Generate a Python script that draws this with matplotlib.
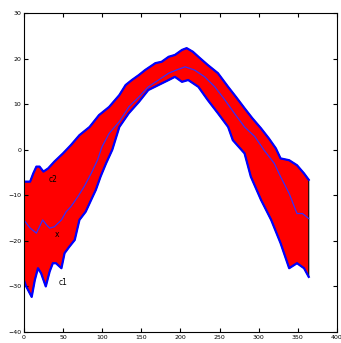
import matplotlib
matplotlib.use('Agg')
import matplotlib.pyplot as plt

# lower bound c1
c1_day = [0, 3, 10, 14, 18, 22, 28, 33, 37, 41, 48, 52, 58, 65, 71, 79, 86, 92, 98, 105,
          113, 122, 134, 147, 159, 172, 185, 193, 202, 210, 223, 235, 248, 261, 267, 282,
          290, 303, 316, 328, 339, 349, 358, 364]
c1_val = [-28.6, -30.0, -32.3, -28.6, -26.0, -27.1, -30.0, -26.7, -24.9, -24.9, -26.0, -22.7,
          -21.3, -19.8, -15.4, -13.6, -11.0, -8.8, -5.9, -3.0, 0.0, 5.0, 8.0, 10.5, 13.1, 14.2,
          15.3, 16.0, 14.9, 15.3, 13.8, 10.9, 8.0, 5.0, 2.1, -0.8, -5.9, -11.0, -15.4, -20.5,
          -26.0, -24.9, -26.0, -27.9]

# middle x
x_day = [0, 8, 16, 20, 24, 29, 33, 39, 48, 54, 60, 69, 77, 86, 94, 100, 109, 117, 122, 134,
         147, 159, 172, 185, 195, 206, 218, 231, 244, 257, 269, 282, 295, 307, 320, 328, 339,
         349, 356, 364]
x_val = [-15.4, -17.2, -18.3, -16.9, -15.4, -16.5, -17.2, -16.9, -15.4, -13.6, -12.5, -10.3,
         -8.1, -5.2, -2.3, 0.7, 3.6, 5.2, 6.2, 9.4, 11.6, 13.8, 15.3, 16.8, 17.5, 18.2, 17.5,
         16.0, 13.8, 10.9, 8.0, 5.0, 2.9, -0.1, -3.0, -5.9, -9.6, -14.0, -14.0, -15.1]

# upper bound c2
c2_day = [0, 8, 12, 16, 20, 25, 31, 39, 50, 60, 71, 84, 96, 109, 122, 130, 138, 147, 155,
          168, 176, 185, 193, 202, 208, 216, 225, 235, 248, 261, 271, 282, 292, 303, 313, 322,
          328, 339, 349, 358, 364]
c2_val = [-7.0, -7.0, -5.2, -3.7, -3.7, -4.8, -4.1, -2.6, -0.8, 1.0, 3.2, 5.0, 7.6, 9.4, 12.0,
          14.2, 15.3, 16.4, 17.5, 19.0, 19.3, 20.4, 20.8, 21.9, 22.3, 21.5, 20.1, 18.6, 16.8,
          13.8, 11.6, 9.1, 6.9, 4.7, 2.5, 0.3, -1.9, -2.3, -3.4, -5.2, -6.6]

fig = plt.figure(figsize=(3.41, 3.43), dpi=100)
ax = fig.add_axes([0.070, 0.032, 0.918, 0.930])

ax.fill(c2_day + c1_day[::-1], c2_val + c1_val[::-1],
        facecolor='red', edgecolor='black', linewidth=0.8)
ax.plot(c2_day, c2_val, color='blue', linewidth=1.6)
ax.plot(c1_day, c1_val, color='blue', linewidth=1.6)
ax.plot(x_day, x_val, color='#3030ff', linewidth=0.9)

ax.text(37, -6.5, 'c2', fontsize=5.5, ha='center', va='center')
ax.text(43, -18.7, 'x', fontsize=5.5, ha='center', va='center')
ax.text(50, -29.2, 'c1', fontsize=5.5, ha='center', va='center')

ax.set_xlim(0, 400)
ax.set_ylim(-40, 30)
ax.set_xticks(range(0, 401, 50))
ax.set_yticks(range(-40, 31, 10))
ax.tick_params(direction='in', top=True, right=True, labelsize=4.5, length=3, pad=2)
for s in ax.spines.values():
    s.set_linewidth(0.8)

fig.savefig('out.png', dpi=100)
